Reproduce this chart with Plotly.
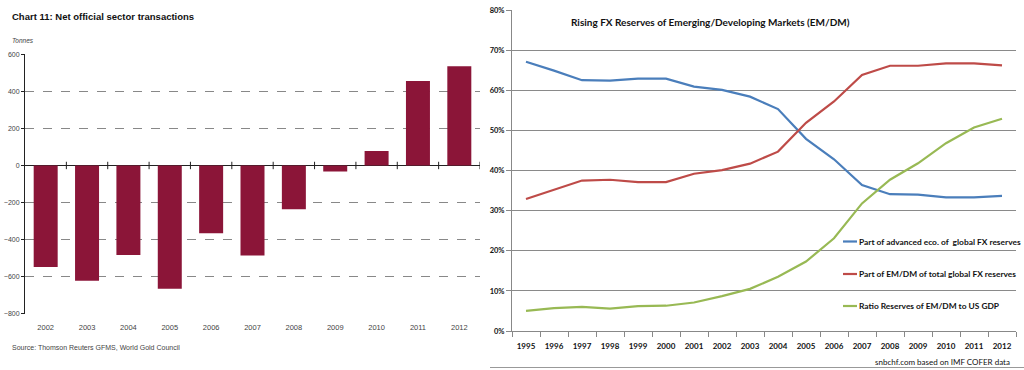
import plotly.graph_objects as go

# ---- Left chart data: Net official sector transactions (tonnes)
gold_years = ["2002", "2003", "2004", "2005", "2006", "2007", "2008", "2009", "2010", "2011", "2012"]
gold_tonnes = [-548, -622, -483, -666, -366, -486, -236, -32, 78, 456, 535]

# ---- Right chart data: FX reserves shares (%)
fx_years = ["1995", "1996", "1997", "1998", "1999", "2000", "2001", "2002", "2003",
            "2004", "2005", "2006", "2007", "2008", "2009", "2010", "2011", "2012"]
advanced_share = [67.1, 64.9, 62.5, 62.4, 62.9, 62.9, 60.9, 60.1, 58.4,
                  55.3, 47.9, 42.8, 36.4, 34.1, 34.0, 33.3, 33.3, 33.7]
emdm_share = [32.9, 35.2, 37.5, 37.7, 37.1, 37.1, 39.2, 40.1, 41.7,
              44.7, 51.9, 57.2, 63.8, 66.1, 66.1, 66.7, 66.7, 66.2]
ratio_us_gdp = [5.0, 5.7, 6.0, 5.6, 6.2, 6.3, 7.1, 8.7, 10.5,
                13.5, 17.3, 23.1, 31.8, 37.7, 41.8, 46.8, 50.7, 52.9]
series_names = ["Part of advanced eco. of  global FX reserves",
                "Part of EM/DM of total global FX reserves",
                "Ratio Reserves of EM/DM to US GDP"]
series_colors = ["#4A7EBB", "#BE4B48", "#98B954"]

W, H = 1024, 370
def px_x(p): return p / W
def px_y(p): return (H - p) / H

ARIAL = "Liberation Sans, Arial, sans-serif"
CAL = "Lato, Open Sans, sans-serif"

fig = go.Figure()

fig.add_trace(go.Bar(x=gold_years, y=gold_tonnes, marker_color="#8B1538",
                     marker_line_width=0, xaxis="x", yaxis="y", showlegend=False))

for name, vals, col in zip(series_names, [advanced_share, emdm_share, ratio_us_gdp], series_colors):
    fig.add_trace(go.Scatter(x=fx_years, y=vals, mode="lines", name=name,
                             line=dict(color=col, width=2.2), xaxis="x2", yaxis="y2",
                             showlegend=False))

shapes = []
# zero-line tick marks between categories on the left chart
for i in range(len(gold_years)):
    shapes.append(dict(type="line", xref="x", yref="y", x0=i + 0.5, x1=i + 0.5,
                       y0=-20, y1=20, line=dict(color="#222", width=1)))
# cut-off axis of a chart below the right panel
shapes.append(dict(type="line", xref="paper", yref="paper", x0=px_x(490), x1=1,
                   y0=px_y(367.5), y1=px_y(367.5), line=dict(color="#999", width=1)))

annotations = [
    dict(text="<b>Chart 11: Net official sector transactions</b>", xref="paper", yref="paper",
         x=px_x(10), y=px_y(16), xanchor="left", yanchor="middle", showarrow=False,
         font=dict(family=ARIAL, size=9.5, color="#111")),
    dict(text="<i>Tonnes</i>", xref="paper", yref="paper",
         x=px_x(10), y=px_y(40), xanchor="left", yanchor="middle", showarrow=False,
         font=dict(family=ARIAL, size=6.5, color="#444")),
    dict(text="Source: Thomson Reuters GFMS, World Gold Council", xref="paper", yref="paper",
         x=px_x(10), y=px_y(347), xanchor="left", yanchor="middle", showarrow=False,
         font=dict(family=ARIAL, size=7, color="#444")),
    dict(text="Rising FX Reserves of Emerging/Developing Markets (EM/DM)", xref="paper", yref="paper",
         x=px_x(569), y=px_y(22), xanchor="left", yanchor="middle", showarrow=False,
         font=dict(family=CAL, size=10, color="#111", weight="bold")),
    dict(text="snbchf.com based on IMF COFER data", xref="paper", yref="paper",
         x=px_x(1012), y=px_y(362), xanchor="right", yanchor="middle", showarrow=False,
         font=dict(family=CAL, size=8, color="#111")),
]

# legend drawn inside the right plot area
legend_rows = [241.5, 274, 306]
for name, col, ry in zip(series_names, series_colors, legend_rows):
    shapes.append(dict(type="line", xref="paper", yref="paper", x0=px_x(843), x1=px_x(857),
                       y0=px_y(ry), y1=px_y(ry), line=dict(color=col, width=2.2)))
    annotations.append(dict(text=name, xref="paper", yref="paper", x=px_x(857), y=px_y(ry),
                            xanchor="left", yanchor="middle", showarrow=False,
                            font=dict(family=CAL, size=8.4, color="#111", weight="bold")))

fig.update_layout(
    width=W, height=H, margin=dict(l=0, r=0, t=0, b=0, autoexpand=False),
    paper_bgcolor="white", plot_bgcolor="white",
    bargap=0.42, shapes=shapes, annotations=annotations, showlegend=False,
    xaxis=dict(domain=[px_x(25), px_x(480)], anchor="y", type="category",
               range=[-0.5, len(gold_years) - 0.5],
               showgrid=False, showline=False, ticks="", zeroline=False, tickangle=0,
               automargin=False, ticklabelstandoff=8,
               tickfont=dict(family=ARIAL, size=7.5, color="#444")),
    yaxis=dict(domain=[px_y(313.7), px_y(54.3)], anchor="x", range=[-800, 600],
               tickvals=[-800, -600, -400, -200, 0, 200, 400, 600], automargin=False,
               showgrid=True, gridcolor="#888", griddash="dash", gridwidth=1,
               zeroline=True, zerolinecolor="#222", zerolinewidth=1,
               showline=True, linecolor="#222", linewidth=1,
               ticks="outside", ticklen=3, tickcolor="#222",
               tickfont=dict(family=ARIAL, size=7, color="#444")),
    xaxis2=dict(domain=[px_x(512), px_x(1016)], anchor="y2", type="category",
                range=[-0.5, len(fx_years) - 0.5],
                showgrid=False, showline=True, linecolor="#888", linewidth=1,
                ticks="outside", tickson="boundaries", ticklen=5, tickcolor="#888",
                zeroline=False, tickangle=0, automargin=False, ticklabelstandoff=7,
                tickfont=dict(family=CAL, size=8, color="#111", weight="bold")),
    yaxis2=dict(domain=[px_y(331), px_y(10)], anchor="x2", range=[0, 80], dtick=10,
                ticksuffix="%", showgrid=True, gridcolor="#8a8a8a", gridwidth=1,
                zeroline=False, showline=True, linecolor="#888", linewidth=1,
                ticks="outside", ticklen=5, tickcolor="#888", automargin=False,
                tickfont=dict(family=CAL, size=7.5, color="#111", weight="bold")),
)

fig.write_html("out.html", config={"displayModeBar": False},
               post_script="document.body.style.margin='0';")
